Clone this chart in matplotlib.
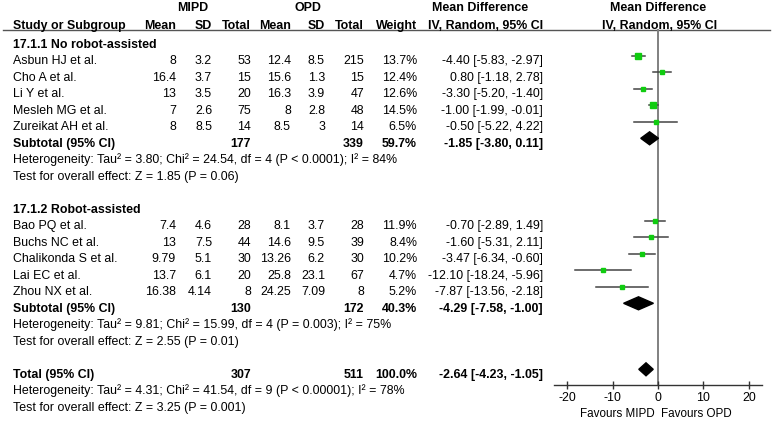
import numpy as np
import matplotlib
matplotlib.use("Agg")
import matplotlib.pyplot as plt
from matplotlib.patches import Polygon

plt.rcParams['font.family'] = ['Liberation Sans', 'DejaVu Sans']

# --- data -----------------------------------------------------------------
studies_a = ["Asbun HJ et al.", "Cho A et al.", "Li Y et al.", "Mesleh MG et al.", "Zureikat AH et al."]
mipd_mean_a = [8, 16.4, 13, 7, 8]
mipd_sd_a = [3.2, 3.7, 3.5, 2.6, 8.5]
mipd_n_a = [53, 15, 20, 75, 14]
opd_mean_a = [12.4, 15.6, 16.3, 8, 8.5]
opd_sd_a = [8.5, 1.3, 3.9, 2.8, 3]
opd_n_a = [215, 15, 47, 48, 14]
weight_a = [13.7, 12.4, 12.6, 14.5, 6.5]
md_a = [-4.40, 0.80, -3.30, -1.00, -0.50]
lo_a = [-5.83, -1.18, -5.20, -1.99, -5.22]
hi_a = [-2.97, 2.78, -1.40, -0.01, 4.22]

studies_b = ["Bao PQ et al.", "Buchs NC et al.", "Chalikonda S et al.", "Lai EC et al.", "Zhou NX et al."]
mipd_mean_b = [7.4, 13, 9.79, 13.7, 16.38]
mipd_sd_b = [4.6, 7.5, 5.1, 6.1, 4.14]
mipd_n_b = [28, 44, 30, 20, 8]
opd_mean_b = [8.1, 14.6, 13.26, 25.8, 24.25]
opd_sd_b = [3.7, 9.5, 6.2, 23.1, 7.09]
opd_n_b = [28, 39, 30, 67, 8]
weight_b = [11.9, 8.4, 10.2, 4.7, 5.2]
md_b = [-0.70, -1.60, -3.47, -12.10, -7.87]
lo_b = [-2.89, -5.31, -6.34, -18.24, -13.56]
hi_b = [1.49, 2.11, -0.60, -5.96, -2.18]

# subtotal A, subtotal B, total
pooled_label = ["Subtotal (95% CI)", "Subtotal (95% CI)", "Total (95% CI)"]
pooled_n_mipd = [177, 130, 307]
pooled_n_opd = [339, 172, 511]
pooled_weight = [59.7, 40.3, 100.0]
pooled_md = [-1.85, -4.29, -2.64]
pooled_lo = [-3.80, -7.58, -4.23]
pooled_hi = [0.11, -1.00, -1.05]
heterogeneity = [
    "Heterogeneity: Tau² = 3.80; Chi² = 24.54, df = 4 (P < 0.0001); I² = 84%",
    "Heterogeneity: Tau² = 9.81; Chi² = 15.99, df = 4 (P = 0.003); I² = 75%",
    "Heterogeneity: Tau² = 4.31; Chi² = 41.54, df = 9 (P < 0.00001); I² = 78%",
]
overall_effect = [
    "Test for overall effect: Z = 1.85 (P = 0.06)",
    "Test for overall effect: Z = 2.55 (P = 0.01)",
    "Test for overall effect: Z = 3.25 (P = 0.001)",
]
group_titles = ["17.1.1 No robot-assisted", "17.1.2 Robot-assisted"]
xticks = [-20, -10, 0, 10, 20]

# --- layout (pixel units) -------------------------------------------------
W, H = 777, 422
FS = 8.9
ROW0, STEP = 60, 16.5
col_x = [176, 212, 251, 291, 325, 364, 417, 543]   # right edges of numeric columns
name_x = 13
mark_off = -4.2
axis_y = 385


def row_y(i):
    return ROW0 + STEP * i


fig = plt.figure(figsize=(W / 100, H / 100), dpi=100)
ax = fig.add_axes([0, 0, 1, 1])
ax.set_xlim(0, W)
ax.set_ylim(H, 0)
ax.axis('off')


def put(x, y, s, ha='left', bold=False, size=FS):
    ax.text(x, y + 4.3, s, ha=ha, va='baseline', fontsize=size,
            fontweight='bold' if bold else 'normal', color='black')


# headers
put(193, 7, "MIPD", ha='center', bold=True)
put(308, 7, "OPD", ha='center', bold=True)
put(480, 7, "Mean Difference", ha='center', bold=True)
put(658, 7, "Mean Difference", ha='center', bold=True)
put(name_x, 25, "Study or Subgroup", bold=True)
for x, s in zip(col_x, ["Mean", "SD", "Total", "Mean", "SD", "Total", "Weight", "IV, Random, 95% CI"]):
    put(x, 25, s, ha='right', bold=True)
put(660, 25, "IV, Random, 95% CI", ha='center', bold=True)
ax.plot([3, 770], [30, 30], color='#555555', lw=1.0)

# forest axes sharing pixel rows
fx0, fx1 = 554, 762
fax = fig.add_axes([fx0 / W, (H - axis_y) / H, (fx1 - fx0) / W, axis_y / H])
fax.set_xlim(-22.9, 22.9)
fax.set_ylim(axis_y, 0)
fax.patch.set_alpha(0)
for side in ['top', 'right', 'left']:
    fax.spines[side].set_visible(False)
fax.spines['bottom'].set_color('#333333')
fax.spines['bottom'].set_linewidth(1.0)
fax.set_yticks([])
fax.set_xticks(xticks)
fax.set_xticklabels([str(t) for t in xticks])
fax.tick_params(axis='x', direction='inout', length=6, width=1.0, color='#333333',
                labelsize=8.9, pad=2)
fax.plot([0, 0], [30, axis_y], color='#808080', lw=1.4, zorder=1)
fax.text(-0.7, 413 + 4.2, "Favours MIPD", ha='right', va='baseline', fontsize=8.4)
fax.text(0.7, 413 + 4.2, "Favours OPD", ha='left', va='baseline', fontsize=8.4)


def fmt(v):
    return f"{v:g}"


def draw_group(start, title, names, m1, s1, n1, m2, s2, n2, w, md, lo, hi, k):
    put(name_x, row_y(start - 1), title, bold=True)
    for j in range(len(names)):
        y = row_y(start + j)
        put(name_x, y, names[j])
        vals = [fmt(m1[j]), fmt(s1[j]), str(n1[j]), fmt(m2[j]), fmt(s2[j]), str(n2[j]),
                f"{w[j]:.1f}%", f"{md[j]:.2f} [{lo[j]:.2f}, {hi[j]:.2f}]"]
        for x, s in zip(col_x, vals):
            put(x, y, s, ha='right')
        ym = y + mark_off
        fax.plot([lo[j], hi[j]], [ym, ym], color='#444444', lw=1.1, zorder=2)
        fax.plot(md[j], ym, marker='s', color='#10cc10', mec='#10cc10',
                 ms=1.0 * np.sqrt(w[j]), zorder=3)
    draw_pooled(start + len(names), k)


def draw_pooled(r, k):
    y = row_y(r)
    put(name_x, y, pooled_label[k], bold=True)
    put(col_x[2], y, str(pooled_n_mipd[k]), ha='right', bold=True)
    put(col_x[5], y, str(pooled_n_opd[k]), ha='right', bold=True)
    put(col_x[6], y, f"{pooled_weight[k]:.1f}%", ha='right', bold=True)
    put(col_x[7], y, f"{pooled_md[k]:.2f} [{pooled_lo[k]:.2f}, {pooled_hi[k]:.2f}]", ha='right', bold=True)
    put(name_x, row_y(r + 1), heterogeneity[k])
    put(name_x, row_y(r + 2), overall_effect[k])
    ym = y + mark_off
    hh = 6.5
    fax.add_patch(Polygon([(pooled_lo[k], ym), (pooled_md[k], ym - hh),
                           (pooled_hi[k], ym), (pooled_md[k], ym + hh)],
                          closed=True, color='black', zorder=4))


draw_group(0, group_titles[0], studies_a, mipd_mean_a, mipd_sd_a, mipd_n_a,
           opd_mean_a, opd_sd_a, opd_n_a, weight_a, md_a, lo_a, hi_a, 0)
draw_group(10, group_titles[1], studies_b, mipd_mean_b, mipd_sd_b, mipd_n_b,
           opd_mean_b, opd_sd_b, opd_n_b, weight_b, md_b, lo_b, hi_b, 1)
draw_pooled(19, 2)

fig.savefig("out.png", dpi=100)
